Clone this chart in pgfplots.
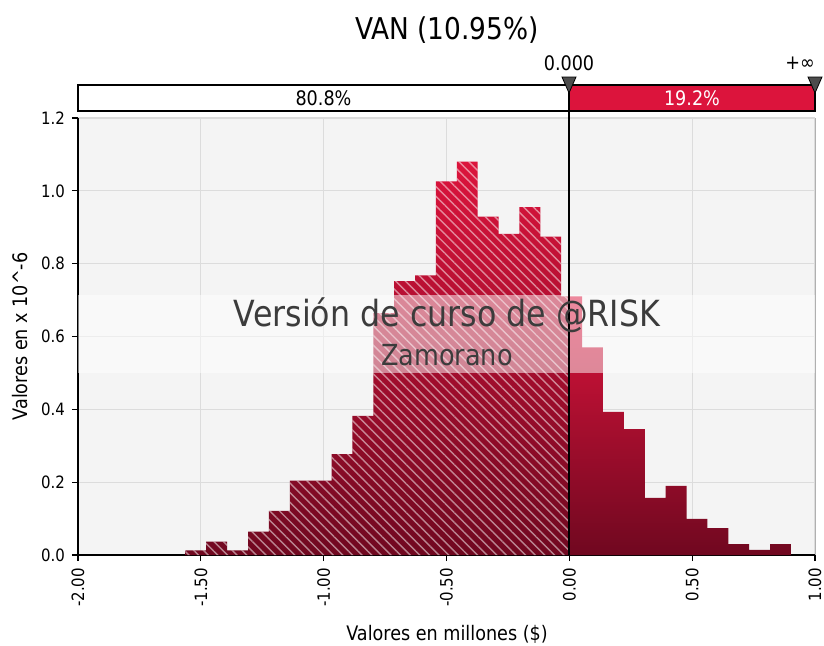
\documentclass[border=0pt]{standalone}
\usepackage{fontspec}
\setmainfont{DejaVu Sans}[FakeStretch=0.88]
\usepackage{pgfplots}
\usepackage{pgfplotstable}
\pgfplotsset{compat=1.18}
\usetikzlibrary{patterns.meta}

\definecolor{crimson}{RGB}{220,20,60}
\definecolor{darkred}{RGB}{112,8,32}
\definecolor{plotbg}{RGB}{244,244,244}
\definecolor{gridc}{RGB}{220,220,220}
\definecolor{wmtext}{RGB}{60,60,60}

% histogram bins (left of 0 are hatched), last row closes the interval
\pgfplotstableread{
x      y
-1.563 0.013
-1.478 0.037
-1.393 0.013
-1.308 0.064
-1.223 0.121
-1.138 0.204
-1.053 0.204
-0.968 0.277
-0.883 0.382
-0.798 0.664
-0.713 0.752
-0.628 0.768
-0.543 1.026
-0.458 1.080
-0.373 0.929
-0.288 0.882
-0.203 0.955
-0.118 0.874
-0.033 0.710
0      0
}\leftbins
\pgfplotstableread{
x      y
0      0.710
0.052  0.570
0.137  0.393
0.222  0.346
0.307  0.157
0.392  0.190
0.477  0.099
0.562  0.074
0.647  0.030
0.732  0.014
0.817  0.030
0.902  0
}\rightbins

\begin{document}
\begin{tikzpicture}[font=\fontsize{8}{9.6}\selectfont]
\path[use as bounding box] (-39pt,-45pt) rectangle (373pt,277.5pt);
\begin{axis}[
  at={(0,0)}, anchor=south west,
  scale only axis, width=368.5pt, height=218.5pt,
  xmin=-2, xmax=1, ymin=0, ymax=1.2,
  axis lines*=left,
  axis line style={line width=0.8pt},
  axis background/.style={fill=plotbg},
  xtick={-2,-1.5,-1,-0.5,0,0.5,1},
  ytick={0,0.2,0.4,0.6,0.8,1.0,1.2},
  tick align=outside, major tick length=3pt,
  tick style={black, line width=0.6pt},
  grid=major, major grid style={gridc, line width=0.6pt},
  /pgf/number format/assume math mode=true,
  tick label style={font=\fontsize{8.5}{10}\selectfont},
  xticklabel style={rotate=90, anchor=east,
    /pgf/number format/fixed, /pgf/number format/fixed zerofill,
    /pgf/number format/precision=2},
  yticklabel style={/pgf/number format/fixed, /pgf/number format/fixed zerofill,
    /pgf/number format/precision=1},
  clip=false,
]
\addplot[ybar interval, draw=none, top color=crimson, bottom color=darkred]
  table[x=x, y=y] {\leftbins};
\addplot[ybar interval, draw=none, fill=none, opacity=0.5,
  pattern={Lines[angle=-45, distance=3.4pt, line width=0.7pt]}, pattern color=white]
  table[x=x, y=y] {\leftbins};
\addplot[ybar interval, draw=none, top color=crimson, bottom color=darkred]
  table[x=x, y=y] {\rightbins};
% watermark band
\fill[white, fill opacity=0.5] (axis cs:-2,0.5) rectangle (axis cs:1,0.714);
\draw[gridc!80!black, line width=0.5pt] (axis cs:1,0) -- (axis cs:1,1.2);
\end{axis}

% delimiter bar
\fill[white] (0,222pt) rectangle (245.5pt,235pt);
\fill[crimson] (245.5pt,222pt) rectangle (368.5pt,235pt);
\draw[line width=1pt] (0,222pt) rectangle (368.5pt,235pt);
\draw[line width=0.7pt] (245.5pt,0) -- (245.5pt,235pt);
\begin{scope}[font=\fontsize{10}{12}\selectfont]
\node at (122.75pt,228.5pt) {80.8\%};
\node[white] at (307pt,228.5pt) {19.2\%};
\node at (245.5pt,246pt) {0.000};
\node at (361pt,246pt) {+∞};
\end{scope}
\filldraw[fill=black!70, draw=black, line width=0.4pt]
  (242pt,239pt) -- (249pt,239pt) -- (245.5pt,231pt) -- cycle;
\filldraw[fill=black!70, draw=black, line width=0.4pt]
  (365pt,239pt) -- (372pt,239pt) -- (368.5pt,231pt) -- cycle;

% titles and labels
\node at (184.5pt,262.5pt) {\fontsize{15}{17}\selectfont VAN (10.95\%)};
\node[rotate=90, font=\fontsize{10}{12}\selectfont] at (-29pt,109.25pt) {Valores en x 10\textasciicircum-6};
\node[font=\fontsize{10}{12}\selectfont] at (184.5pt,-39.5pt) {Valores en millones (\$)};

% watermark text
\node[wmtext] at (184.5pt,120pt) {\fontsize{18}{21}\selectfont Versión de curso de @RISK};
\node[wmtext] at (184.5pt,100pt) {\fontsize{14.5}{17}\selectfont Zamorano};
\end{tikzpicture}
\end{document}
